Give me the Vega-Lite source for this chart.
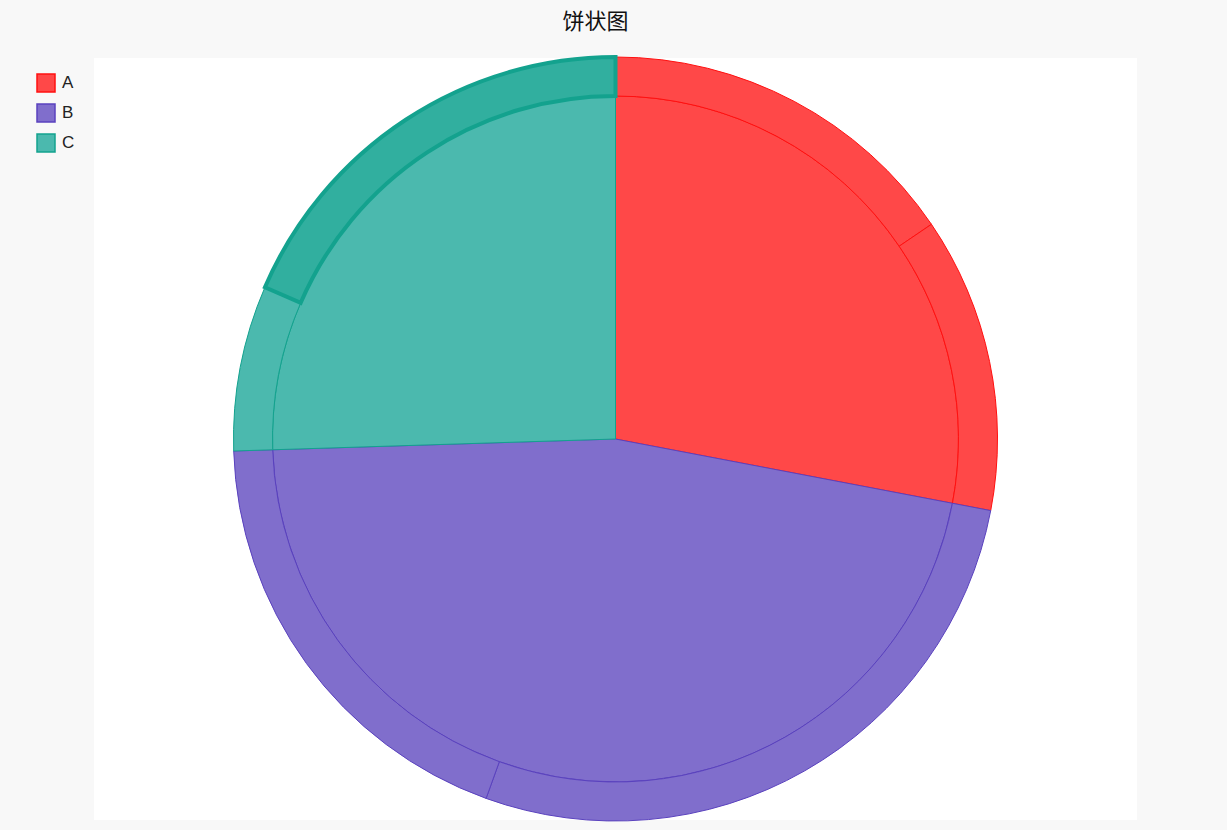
{
  "$schema": "https://vega.github.io/schema/vega-lite/v6.json",
  "width": 1043,
  "height": 762,
  "autosize": {"type": "none"},
  "padding": {"left": 94, "top": 58, "right": 90, "bottom": 10},
  "background": "#F8F8F8",
  "view": {"fill": "#FFFFFF", "stroke": null},
  "title": {
    "text": "饼状图",
    "anchor": "middle",
    "frame": "group",
    "dx": -20,
    "offset": 15,
    "fontSize": 22,
    "fontWeight": "normal",
    "font": "Noto Sans CJK SC",
    "color": "#111111"
  },
  "config": {
    "view": {"fill": "#FFFFFF", "stroke": null},
    "font": "Liberation Sans"
  },
  "data": {
    "values": [
      {"type": "A", "name": "A1", "value": 31},
      {"type": "A", "name": "A2", "value": 25},
      {"type": "B", "name": "B1", "value": 55},
      {"type": "B", "name": "B2", "value": 38},
      {"type": "C", "name": "C1", "value": 14},
      {"type": "C", "name": "C2", "value": 37}
    ]
  },
  "layer": [
    {
      "transform": [
        {"aggregate": [{"op": "sum", "field": "value", "as": "total"}], "groupby": ["type"]}
      ],
      "mark": {"type": "arc", "outerRadius": 343, "strokeWidth": 1},
      "encoding": {
        "theta": {"field": "total", "type": "quantitative", "stack": true},
        "order": {"field": "type", "sort": "ascending"},
        "fill": {
          "field": "type",
          "type": "nominal",
          "scale": {"domain": ["A", "B", "C"], "range": ["#FF4848", "#806ECC", "#4BB9AE"]},
          "legend": {
            "orient": "none",
            "legendX": -58,
            "legendY": 15,
            "title": null,
            "symbolType": "square",
            "symbolSize": 324,
            "symbolStrokeWidth": 1.5,
            "symbolOpacity": 1,
            "labelFontSize": 17,
            "labelColor": "#222222",
            "labelOffset": 6,
            "rowPadding": 6,
            "padding": 0
          }
        },
        "stroke": {
          "field": "type",
          "type": "nominal",
          "scale": {"domain": ["A", "B", "C"], "range": ["#FF1010", "#5A42BE", "#13A28E"]},
          "legend": null
        }
      }
    },
    {
      "mark": {"type": "arc", "innerRadius": 343, "outerRadius": 382},
      "encoding": {
        "theta": {"field": "value", "type": "quantitative", "stack": true},
        "order": {"field": "name", "sort": "ascending"},
        "fill": {
          "condition": {"test": "datum.name === 'C2'", "value": "#31AF9F"},
          "field": "type",
          "type": "nominal"
        },
        "stroke": {"field": "type", "type": "nominal"},
        "strokeWidth": {
          "condition": {"test": "datum.name === 'C2'", "value": 4},
          "value": 1
        }
      }
    }
  ]
}
